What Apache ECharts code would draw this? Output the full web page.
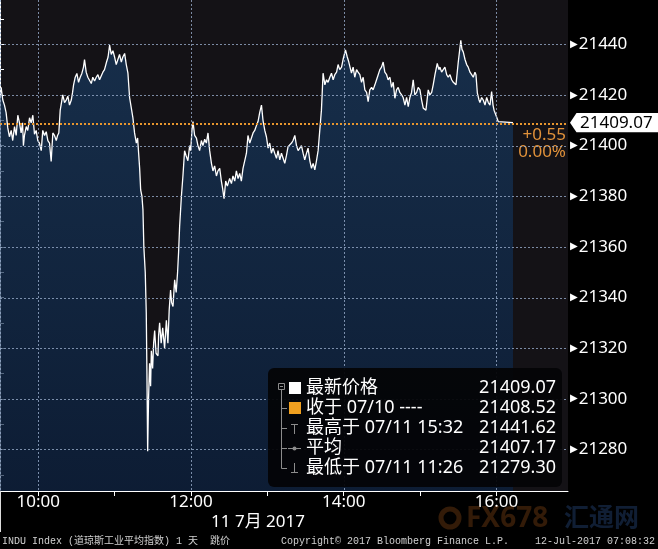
<!DOCTYPE html>
<html><head><meta charset="utf-8">
<script src="https://cdn.jsdelivr.net/npm/echarts@6/dist/echarts.min.js"></script>
<style>html,body{margin:0;padding:0;background:#000;}#c{width:658px;height:549px;}</style>
</head><body><div id="c"></div>
<script>
// minutes since the 9:30 open
const minutesSinceOpen = [
0,0.9,2.2,3.5,4.8,6.1,7.4,8.8,10.0,11.4,
12.7,14.0,15.3,16.6,17.7,18.4,19.2,20.6,21.8,23.2,
24.5,25.8,27.1,28.4,29.7,31.0,32.4,33.6,35.0,36.3,
37.6,38.9,40.2,41.5,42.8,44.2,45.2,46.2,47.3,48.3,
49.3,50.7,52.0,53.3,54.6,56.0,57.0,57.8,59.1,60.4,
61.7,63.0,64.3,65.6,66.4,67.7,69.0,70.3,71.7,72.9,
74.3,75.6,76.9,78.2,79.5,80.8,82.1,83.7,84.9,86.1,
87.4,88.7,90.0,91.3,92.6,93.9,95.3,96.5,97.9,99.2,
100.5,101.8,103.1,104.4,105.7,107.1,108.1,108.9,109.7,110.5,
111.5,112.3,113.0,114.1,114.9,115.4,
116.0,
116.7,117.5,118.3,118.9,119.9,120.7,121.5,122.6,124.1,124.6,
125.4,126.6,127.8,129.3,130.7,131.9,132.9,134.0,134.8,135.9,
137.2,138.4,139.5,140.3,141.1,142.5,143.7,145.0,146.2,147.6,
149.0,149.8,150.8,151.6,152.9,154.3,155.5,156.8,158.2,159.4,
160.8,162.1,163.4,164.7,166.1,167.3,168.6,170.0,171.2,172.6,
173.9,174.9,176.0,177.3,178.6,180.4,181.8,183.0,184.4,185.7,
187.0,188.3,189.6,190.9,192.2,193.6,194.8,196.2,197.5,198.8,
200.1,201.5,202.7,204.0,205.4,206.6,208.0,209.3,210.6,211.9,
213.2,214.5,215.8,217.2,218.4,219.8,221.1,222.4,223.7,225.0,
226.3,227.6,229.0,230.2,231.6,232.9,234.2,235.5,236.8,238.1,
239.4,240.8,242.0,243.4,244.7,246.0,247.3,248.6,249.9,251.2,
252.5,253.8,255.2,256.5,257.7,259.1,260.4,261.7,263.0,264.4,
265.6,266.9,268.3,269.5,271.4,272.8,274.0,276.1,277.4,278.7,
280.1,281.3,282.7,284.0,285.3,286.6,288.0,289.2,290.5,291.9,
293.1,294.5,295.8,297.1,298.4,299.7,301.0,302.3,303.7,304.9,
306.3,307.6,308.9,310.2,311.5,312.8,314.1,315.5,316.7,318.1,
319.4,320.7,322.0,323.3,324.6,325.9,327.3,328.5,329.9,331.2,
332.5,334.6,336.4,337.7,339.1,340.3,341.7,343.5,344.8,345.6,
346.9,348.2,349.5,350.9,352.1,353.5,354.8,356.1,358.2,360.0,
362.0,362.9,363.9,365.3,366.6,367.8,369.2,370.5,371.8,373.1,
373.9,375.0,376.3,377.0,378.4,379.6,381.0,382.3,383.6,384.9,
386.2,387.3,388.1,389.6,391.4,392.8,403.0
];
const prices = [
21419,21423,21418,21416,21413,21407,21403.5,21406,21402,21407.5,
21404,21412,21409,21405,21409,21400,21404,21407.5,21406,21411,
21409,21412,21404.5,21406,21402,21401,21398,21406,21404,21405.5,
21402,21401,21393.7,21405,21404,21402,21404,21405,21414,21417,
21420,21417,21418,21419.5,21416,21418,21421,21424,21427,21428.5,
21425,21427,21428.5,21431,21434,21429,21427,21427,21424.5,21427,
21425.5,21427,21428,21426,21427.5,21429,21430,21433,21435,21439.7,
21436,21437.5,21435,21432,21434,21436,21433,21435,21436.4,21432,
21428.6,21419,21415,21411,21405,21401,21403,21397,21391,21382.5,
21380,21374.6,21360,21350,21334,21311.5,
21279.30,
21300,21314,21305,21319,21312,21322,21327,21318,21317,21325,
21330,21322,21328,21320,21331,21322,21335,21343,21338,21336.5,
21347,21342,21350,21358,21368,21380,21388,21398,21396,21394,
21400,21398,21406,21409.5,21404,21403,21400,21398,21402,21400,
21402.5,21401,21405,21398,21393,21390,21392,21388,21390,21391,
21386,21383,21379,21386,21384,21387,21385,21388,21386,21390,
21387,21389,21386,21391,21391.7,21397,21404,21401,21403,21405,
21406,21408,21409.5,21413,21416,21410,21406,21403.5,21399,21401,
21397,21399,21397,21395,21398,21394.4,21397,21395,21393,21396,
21399.6,21399,21401,21402,21404,21400,21398,21399,21400,21397,
21394.4,21397,21399,21394,21391,21393,21390.4,21394,21398,21406,
21414,21428.6,21424,21426,21425,21427,21428.6,21426,21428,21429,
21432,21430,21431,21434,21437.8,21435,21433,21428.6,21431,21427,
21430,21429,21428,21425,21427,21422,21421,21417.4,21422,21423,
21422,21424,21426,21428,21430,21431,21433,21429,21428,21426,
21427,21423,21425,21418.7,21422,21423,21421,21420,21419,21416,
21419,21415.4,21419,21421,21426,21420,21421,21423,21422,21418,
21414.8,21414,21422,21420,21421,21424,21428,21432.5,21430,21431,
21429,21430,21431,21428,21427,21428,21426,21425,21424,21433,
21441.62,21438,21437,21434,21432,21431,21429,21428,21427,21429,
21428,21420.7,21418,21417,21419,21418,21416,21419,21417,21416,
21421.3,21416,21414,21412,21409.5,21409.07,21409.07
];
const xLabelMinutes = [30, 150, 270, 390];
const xTickMinutes = [30, 90, 150, 210, 270, 330, 390];
const xGridMinutes = [30, 150, 270, 390];
const yLabelValues = [21280, 21300, 21320, 21340, 21360, 21380, 21400, 21420, 21440];
const yTickValues = [21270,21280,21290,21300,21310,21320,21330,21340,21350,21360,21370,21380,21390,21400,21410,21420,21430,21440,21450];
const prevClose = 21408.52;
const lastPrice = 21409.07;
const changeAbs = '+0.55';
const changePct = '0.00%';
const legendLabels = ['最新价格', '收于 07/10 ----', '最高于 07/11 15:32', '平均', '最低于 07/11 11:26'];
const legendValues = ['21409.07', '21408.52', '21441.62', '21407.17', '21279.30'];
const dateLabel = '11 7月 2017';
const footerLeft = 'INDU Index (道琼斯工业平均指数) 1 天  跳价';
const footerMid = 'Copyright© 2017 Bloomberg Finance L.P.';
const footerRight = '12-Jul-2017 07:08:32';

const FONT = '"Noto Sans","Noto Sans CJK SC",sans-serif';
const chart = echarts.init(document.getElementById('c'));
const seriesData = minutesSinceOpen.map((m, i) => [m, prices[i]]);
const fmtTime = m => { const t = 570 + m; const h = Math.floor(t / 60); const mm = t % 60; return h + ':' + String(mm).padStart(2, '0'); };
const X_MIN = 0, X_MAX = 446.2, Y_MIN = 21263.6, Y_MAX = 21457.5;
const GRID = { left: 0, right: 90, top: 0, bottom: 58 };
const W = 658, H = 549;

chart.setOption({
  animation: false,
  backgroundColor: '#000',
  grid: Object.assign({ show: true, backgroundColor: '#141216', borderWidth: 0, borderColor: 'transparent' }, GRID),
  xAxis: {
    type: 'value', min: X_MIN, max: X_MAX,
    axisLine: { show: true, onZero: false, lineStyle: { color: '#fff', width: 1 } },
    axisTick: { show: true, customValues: xTickMinutes, length: 5, lineStyle: { color: '#fff' } },
    axisLabel: { show: true, customValues: xLabelMinutes, formatter: v => fmtTime(v), color: '#fff', fontSize: 17, fontFamily: FONT, margin: 3 },
    splitLine: { show: false }
  },
  yAxis: {
    type: 'value', position: 'right', min: Y_MIN, max: Y_MAX, scale: true,
    axisLine: { show: true, lineStyle: { color: '#fff', width: 1 } },
    axisTick: { show: true, customValues: yTickValues, length: 4, lineStyle: { color: '#fff' } },
    axisLabel: { show: true, customValues: yLabelValues, margin: 2,
      formatter: v => '{a|▶}{b|' + v + '}',
      rich: { a: { color: '#fff', fontSize: 10, fontFamily: 'DejaVu Sans', padding: [0, 1, 0, 0] },
              b: { color: '#fff', fontSize: 17, fontFamily: FONT } } },
    splitLine: { show: false }
  },
  series: [{
    type: 'line', data: seriesData, showSymbol: false, symbol: 'none', z: 2,
    lineStyle: { color: '#ffffff', width: 1.3 },
    areaStyle: { color: new echarts.graphic.LinearGradient(0, 0, 0, 1, [
      { offset: 0, color: '#183a60' }, { offset: 1, color: '#0a2141' }]) },
    markLine: { silent: true, symbol: ['none', 'none'], data: [
      { yAxis: prevClose, lineStyle: { color: '#e8962e', type: [2, 2], width: 2 },
        label: { show: true, position: 'insideEndBottom', formatter: changeAbs + '\n' + changePct,
          color: '#e0913a', fontSize: 17, lineHeight: 17.5, fontFamily: FONT, distance: 2 } }
    ] }
  }]
});

// value -> pixel through the chart's own grid; fall back on the same linear scale if the finder fails
const plotL = GRID.left, plotR = W - GRID.right, plotT = GRID.top, plotB = H - GRID.bottom;
function toPx(m, v) {
  let p = null;
  try { p = chart.convertToPixel({ gridIndex: 0 }, [m, v]); } catch (e) { p = null; }
  if (!p || !isFinite(p[0]) || !isFinite(p[1])) {
    p = [plotL + (m - X_MIN) / (X_MAX - X_MIN) * (plotR - plotL), plotT + (Y_MAX - v) / (Y_MAX - Y_MIN) * (plotB - plotT)];
  }
  return p;
}

const g = [];
const gridColor = 'rgba(150,170,200,0.8)';
yLabelValues.forEach(v => {
  const y = Math.round(toPx(X_MIN, v)[1]) + 0.5;
  g.push({ type: 'line', silent: true, shape: { x1: plotL, y1: y, x2: plotR, y2: y },
    style: { stroke: gridColor, lineWidth: 1, lineDash: [2, 2] }, z: 20 });
});
xGridMinutes.forEach(m => {
  const x = Math.round(toPx(m, Y_MIN)[0]) + 0.5;
  g.push({ type: 'line', silent: true, shape: { x1: x, y1: plotT, x2: x, y2: plotB },
    style: { stroke: gridColor, lineWidth: 1, lineDash: [2, 2] }, z: 20 });
});
// last price tag
const tagY = toPx(X_MAX, lastPrice)[1];
g.push({ type: 'polygon', shape: { points: [[570, tagY], [576.5, tagY - 9.7], [658, tagY - 9.7], [658, tagY + 9.7], [576.5, tagY + 9.7]] }, style: { fill: '#fff' }, z: 50 });
g.push({ type: 'text', style: { text: String(lastPrice), x: 580, y: tagY + 0.5, fill: '#000', fontSize: 17, fontFamily: FONT, textVerticalAlign: 'middle' }, z: 51 });
// legend box
g.push({ type: 'rect', shape: { x: 268, y: 368, width: 294, height: 119, r: 6 }, style: { fill: 'rgba(4,4,6,0.94)' }, z: 100 });
const sym = '#8c8c8c';
const symLine = (x1, y1, x2, y2) => g.push({ type: 'line', shape: { x1, y1, x2, y2 }, style: { stroke: sym, lineWidth: 1 }, z: 101 });
g.push({ type: 'rect', shape: { x: 278.5, y: 383.5, width: 6, height: 6 }, style: { fill: 'none', stroke: sym, lineWidth: 1 }, z: 101 });
symLine(280, 386.5, 283, 386.5);
symLine(281.5, 389.5, 281.5, 468.5);
[408.5, 428.5, 448.5, 468.5].forEach(y => symLine(281.5, y, 287, y));
g.push({ type: 'rect', shape: { x: 289, y: 382, width: 12, height: 12 }, style: { fill: '#fff' }, z: 101 });
g.push({ type: 'rect', shape: { x: 289, y: 402, width: 12, height: 12 }, style: { fill: '#f0a020' }, z: 101 });
symLine(294.5, 424, 294.5, 434);
symLine(291, 424.5, 298, 424.5);
symLine(288, 448.5, 301, 448.5);
g.push({ type: 'circle', shape: { cx: 294.5, cy: 448.5, r: 2 }, style: { fill: sym }, z: 101 });
symLine(294.5, 463, 294.5, 473);
symLine(291, 472.5, 298, 472.5);
legendLabels.forEach((t, i) => {
  const y = 388 + i * 20;
  g.push({ type: 'text', style: { text: t, x: 306, y: y, fill: '#fff', fontSize: 18, fontFamily: FONT, textVerticalAlign: 'middle' }, z: 102 });
  g.push({ type: 'text', style: { text: legendValues[i], x: 556, y: y, fill: '#fff', fontSize: 18, fontFamily: FONT, textAlign: 'right', textVerticalAlign: 'middle' }, z: 102 });
});
// date label
g.push({ type: 'text', style: { text: dateLabel, x: 258, y: 522, fill: '#fff', fontSize: 17, fontFamily: FONT, textAlign: 'center', textVerticalAlign: 'middle' }, z: 10 });
// watermark
g.push({ type: 'circle', shape: { cx: 450, cy: 518, r: 9 }, style: { fill: 'none', stroke: 'rgba(170,90,25,0.3)', lineWidth: 5 }, z: 5 });
g.push({ type: 'text', style: { text: 'FX678', x: 466, y: 519, fill: 'rgba(170,90,25,0.3)', fontSize: 28, fontWeight: 'bold', fontFamily: FONT, textVerticalAlign: 'middle' }, z: 5 });
g.push({ type: 'text', style: { text: '汇通网', x: 564, y: 519, fill: 'rgba(40,75,130,0.4)', fontSize: 25, fontWeight: 'bold', fontFamily: FONT, textVerticalAlign: 'middle' }, z: 5 });
// left border of the chart frame
g.push({ type: 'line', shape: { x1: 0.5, y1: 0, x2: 0.5, y2: 491 }, style: { stroke: gridColor, lineWidth: 1, lineDash: [2, 2] }, z: 20 });
g.push({ type: 'line', shape: { x1: 0.5, y1: 491, x2: 0.5, y2: 532 }, style: { stroke: '#ddd', lineWidth: 1 }, z: 21 });
// footer
const MONO = '"Liberation Mono","Noto Sans CJK SC",monospace';
g.push({ type: 'text', style: { text: footerLeft, x: 2, y: 541, fill: '#d0d0d0', fontSize: 10, fontFamily: MONO, textVerticalAlign: 'middle' }, z: 10 });
g.push({ type: 'text', style: { text: footerMid, x: 281, y: 541, fill: '#d0d0d0', fontSize: 10, fontFamily: MONO, textVerticalAlign: 'middle' }, z: 10 });
g.push({ type: 'text', style: { text: footerRight, x: 655, y: 541, fill: '#d0d0d0', fontSize: 10, fontFamily: MONO, textAlign: 'right', textVerticalAlign: 'middle' }, z: 10 });
chart.setOption({ graphic: g });
</script>
</body></html>
